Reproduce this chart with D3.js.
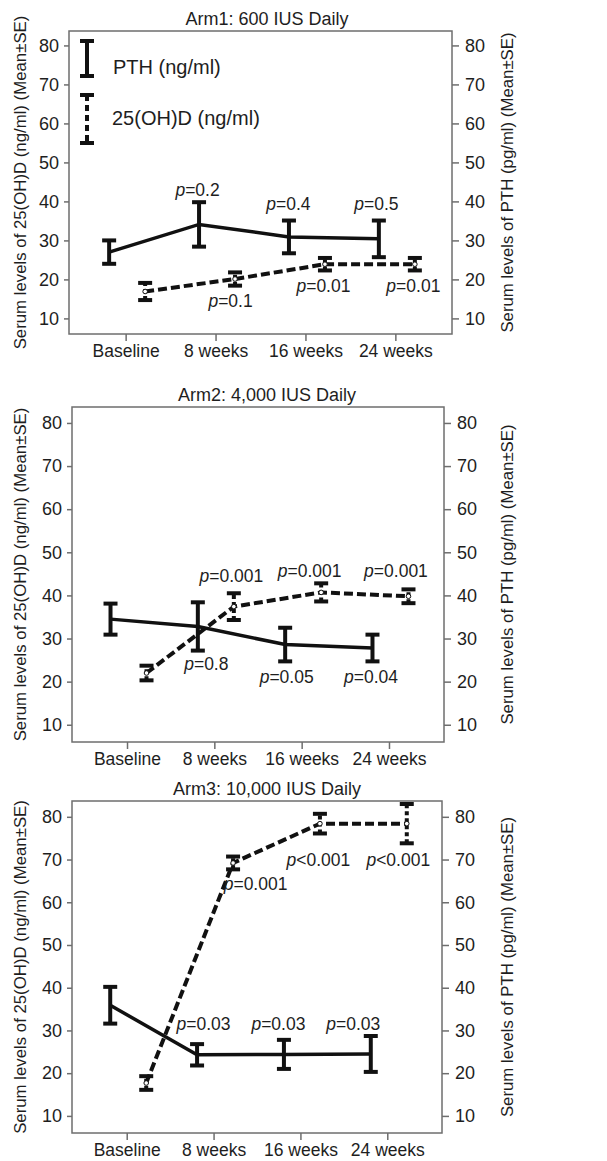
<!DOCTYPE html>
<html>
<head>
<meta charset="utf-8">
<script src="https://cdn.jsdelivr.net/npm/d3@7"></script>
<style>
  body { margin: 0; background: #fff; }
  text { font-family: "Liberation Sans", Arial, sans-serif; fill: #1e1e1e; }
</style>
</head>
<body>
<div id="plot"></div>
<script>
// categories and tick values
const categories = ["Baseline", "8 weeks", "16 weeks", "24 weeks"];
const yTicks = [10, 20, 30, 40, 50, 60, 70, 80];
const titles = ["Arm1: 600 IUS Daily", "Arm2: 4,000 IUS Daily", "Arm3: 10,000 IUS Daily"];

// PTH (solid) mean and SE per arm
const arm1Pth = [27.0, 34.1, 30.9, 30.4];
const arm1PthSe = [3.0, 5.7, 4.2, 4.7];
const arm2Pth = [34.5, 32.8, 28.6, 27.8];
const arm2PthSe = [3.6, 5.6, 3.9, 3.1];
const arm3Pth = [35.9, 24.3, 24.4, 24.5];
const arm3PthSe = [4.3, 2.5, 3.4, 4.2];

// 25(OH)D (dashed) mean and SE per arm
const arm1Vd = [16.9, 20.1, 23.9, 23.9];
const arm1VdSe = [2.2, 1.7, 1.6, 1.6];
const arm2Vd = [22.0, 37.4, 40.7, 39.8];
const arm2VdSe = [1.7, 3.1, 2.1, 1.6];
const arm3Vd = [17.7, 69.2, 78.4, 78.4];
const arm3VdSe = [1.6, 1.5, 2.3, 4.6];

// p values shown next to the follow-up points (8, 16, 24 weeks)
const arm1PthP = ["=0.2", "=0.4", "=0.5"];
const arm1VdP = ["=0.1", "=0.01", "=0.01"];
const arm2PthP = ["=0.8", "=0.05", "=0.04"];
const arm2VdP = ["=0.001", "=0.001", "=0.001"];
const arm3PthP = ["=0.03", "=0.03", "=0.03"];
const arm3VdP = ["=0.001", "<0.001", "<0.001"];

// where each p label sits (value on the y axis of its baseline)
const arm1PthPAt = [41.4, 37.8, 37.8];
const arm1VdPAt = [13.0, 16.8, 16.8];
const arm2PthPAt = [22.8, 19.6, 19.6];
const arm2VdPAt = [43.1, 44.3, 44.3];
const arm3PthPAt = [30.2, 30.2, 30.2];
const arm3VdPAt = [62.9, 68.5, 68.5];

const W = 607, H = 1161;
const svg = d3.select("#plot").append("svg")
  .attr("width", W).attr("height", H);
svg.append("rect").attr("width", W).attr("height", H).attr("fill", "#fff");

// panel boxes
const panels = [
  { box: [69, 452, 31, 334], pth: arm1Pth, pthSe: arm1PthSe, vd: arm1Vd, vdSe: arm1VdSe,
    pthP: arm1PthP, vdP: arm1VdP, pthAt: arm1PthPAt, vdAt: arm1VdPAt,
    pthDx: [-18, -17, -19], vdDx: [15, 18, 18], legend: true },
  { box: [72, 444, 407, 742], pth: arm2Pth, pthSe: arm2PthSe, vd: arm2Vd, vdSe: arm2VdSe,
    pthP: arm2PthP, vdP: arm2VdP, pthAt: arm2PthPAt, vdAt: arm2VdPAt,
    pthDx: [-8, -15, -18], vdDx: [17, 8, 7] },
  { box: [72, 442, 801, 1133], pth: arm3Pth, pthSe: arm3PthSe, vd: arm3Vd, vdSe: arm3VdSe,
    pthP: arm3PthP, vdP: arm3VdP, pthAt: arm3PthPAt, vdAt: arm3VdPAt,
    pthDx: [-10, -22, -34], vdDx: [42, 18, 11] }
];

const axisColor = "#6e6e6e";
const capW = 14;

panels.forEach((p, i) => {
  const [x0, x1, y0, y1] = p.box;
  const g = svg.append("g");

  const x = d3.scalePoint().domain(categories).range([x0, x1]).padding(0.63);
  const y = d3.scaleLinear().domain([6, 83.7]).range([y1, y0]);
  const pthX = d => x(d) - 16.5;
  const vdX = d => x(d) + 19.5;

  // frame
  g.append("rect")
    .attr("x", x0).attr("y", y0)
    .attr("width", x1 - x0).attr("height", y1 - y0)
    .attr("fill", "none").attr("stroke", axisColor).attr("stroke-width", 1.5);

  // axes
  const left = g.append("g").attr("transform", `translate(${x0},0)`)
    .call(d3.axisLeft(y).tickValues(yTicks).tickSize(5).tickPadding(5));
  const right = g.append("g").attr("transform", `translate(${x1},0)`)
    .call(d3.axisRight(y).tickValues(yTicks).tickSize(7).tickPadding(6));
  const bottom = g.append("g").attr("transform", `translate(0,${y1})`)
    .call(d3.axisBottom(x).tickSize(7).tickPadding(4));
  [left, right, bottom].forEach(a => {
    a.select(".domain").remove();
    a.selectAll(".tick line").attr("stroke", axisColor).attr("stroke-width", 1.5);
    a.selectAll(".tick text")
      .attr("fill", "#1e1e1e")
      .style("font-size", "18px")
      .style("font-family", '"Liberation Sans", Arial, sans-serif');
  });
  bottom.selectAll(".tick text").style("font-size", "17.5px");

  // title
  g.append("text")
    .attr("x", 267).attr("y", y0 - 6)
    .attr("text-anchor", "middle")
    .style("font-size", "18px")
    .text(titles[i]);

  // axis titles
  const cy = (y0 + y1) / 2;
  g.append("text")
    .attr("transform", `translate(26,${cy}) rotate(-90)`)
    .attr("text-anchor", "middle")
    .style("font-size", "16.8px")
    .text("Serum levels of 25(OH)D (ng/ml) (Mean±SE)");
  g.append("text")
    .attr("transform", `translate(513,${cy}) rotate(-90)`)
    .attr("text-anchor", "middle")
    .style("font-size", "16.8px")
    .text("Serum levels of PTH (pg/ml) (Mean±SE)");

  // lines
  const pthLine = d3.line().x((d, j) => pthX(categories[j])).y(d => y(d));
  const vdLine = d3.line().x((d, j) => vdX(categories[j])).y(d => y(d));

  g.append("path").datum(p.vd)
    .attr("d", vdLine)
    .attr("fill", "none").attr("stroke", "#111").attr("stroke-width", 4)
    .attr("stroke-dasharray", "9,4");
  g.append("path").datum(p.pth)
    .attr("d", pthLine)
    .attr("fill", "none").attr("stroke", "#111").attr("stroke-width", 3.5);

  // error bars
  function errorBars(vals, ses, xf, dashed) {
    const eb = g.append("g").selectAll("g")
      .data(vals.map((v, j) => ({ c: categories[j], v, se: ses[j] })))
      .join("g");
    eb.append("line")
      .attr("x1", d => xf(d.c)).attr("x2", d => xf(d.c))
      .attr("y1", d => y(d.v - d.se)).attr("y2", d => y(d.v + d.se))
      .attr("stroke", "#111").attr("stroke-width", 4)
      .attr("stroke-dasharray", dashed ? "4,3" : null);
    [-1, 1].forEach(s => {
      eb.append("line")
        .attr("x1", d => xf(d.c) - capW / 2).attr("x2", d => xf(d.c) + capW / 2)
        .attr("y1", d => y(d.v + s * d.se)).attr("y2", d => y(d.v + s * d.se))
        .attr("stroke", "#111").attr("stroke-width", 4);
    });
    if (dashed) {
      eb.append("circle")
        .attr("cx", d => xf(d.c)).attr("cy", d => y(d.v))
        .attr("r", 2.3)
        .attr("fill", "#fff").attr("stroke", "#111").attr("stroke-width", 1);
    }
  }
  errorBars(p.pth, p.pthSe, pthX, false);
  errorBars(p.vd, p.vdSe, vdX, true);

  // p value labels
  function pLabels(txt, at, dx) {
    txt.forEach((t, j) => {
      const c = categories[j + 1];
      const tx = g.append("text")
        .attr("x", x(c) + dx[j]).attr("y", y(at[j]))
        .attr("text-anchor", "middle")
        .style("font-size", "17.5px");
      tx.append("tspan").style("font-style", "italic").text("p");
      tx.append("tspan").text(t);
    });
  }
  pLabels(p.pthP, p.pthAt, p.pthDx);
  pLabels(p.vdP, p.vdAt, p.vdDx);

  // legend
  if (p.legend) {
    const lg = g.append("g");
    const lx = 87;
    lg.append("line").attr("x1", lx).attr("x2", lx).attr("y1", 41).attr("y2", 76)
      .attr("stroke", "#111").attr("stroke-width", 4);
    [41, 76].forEach(v => lg.append("line")
      .attr("x1", lx - capW / 2).attr("x2", lx + capW / 2).attr("y1", v).attr("y2", v)
      .attr("stroke", "#111").attr("stroke-width", 4));
    lg.append("line").attr("x1", lx).attr("x2", lx).attr("y1", 95).attr("y2", 143)
      .attr("stroke", "#111").attr("stroke-width", 4).attr("stroke-dasharray", "6,4");
    [95, 143].forEach(v => lg.append("line")
      .attr("x1", lx - capW / 2).attr("x2", lx + capW / 2).attr("y1", v).attr("y2", v)
      .attr("stroke", "#111").attr("stroke-width", 4));
    lg.append("text").attr("x", 113).attr("y", 74)
      .style("font-size", "20px").text("PTH (ng/ml)");
    lg.append("text").attr("x", 112).attr("y", 125)
      .style("font-size", "20px").text("25(OH)D (ng/ml)");
  }
});
</script>
</body>
</html>
